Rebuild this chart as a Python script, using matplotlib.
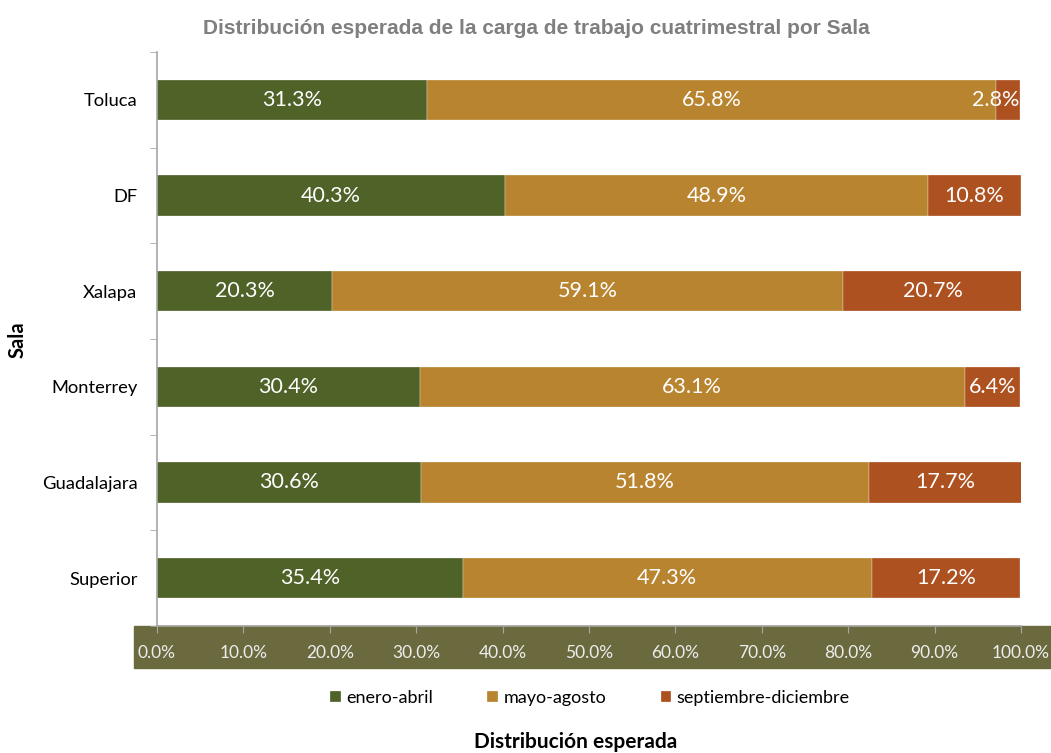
import matplotlib.pyplot as plt
import matplotlib.patches as mpatches
import numpy as np

# Workload share per courtroom and four-month period (%)
salas = ['Superior', 'Guadalajara', 'Monterrey', 'Xalapa', 'DF', 'Toluca']
enero_abril = [35.4, 30.6, 30.4, 20.3, 40.3, 31.3]
mayo_agosto = [47.3, 51.8, 63.1, 59.1, 48.9, 65.8]
sept_dic = [17.2, 17.7, 6.4, 20.7, 10.8, 2.8]
periodos = ['enero-abril', 'mayo-agosto', 'septiembre-diciembre']
colores = ['#4F6228', '#B9842F', '#AE5120']
x_ticks = np.arange(0, 101, 10)

plt.rcParams['font.family'] = ['Lato', 'DejaVu Sans']

fig = plt.figure(figsize=(10.51, 7.53), dpi=100)
W, H = 1051, 753
ax = fig.add_axes([157 / W, 1 - 626 / H, (1021 - 157) / W, (626 - 52) / H])
ax.set_facecolor('none')

# olive band behind the x tick labels
fig.patches.append(mpatches.Rectangle((134 / W, 1 - 668 / H), 1 - 134 / W, 42 / H,
                                      transform=fig.transFigure, color='#6B6A3F', zorder=-1))

y = np.arange(len(salas))
series = [enero_abril, mayo_agosto, sept_dic]
left = np.zeros(len(salas))
for vals, col, name in zip(series, colores, periodos):
    vals = np.array(vals)
    ax.barh(y, vals, left=left, height=0.42, color=col, label=name,
            edgecolor='#FFFFFF', linewidth=0.2)
    for yi, l, v in zip(y, left, vals):
        cx = l + v / 2
        txt = f'{v:.1f}%'
        if cx + 3 > 100:
            ax.text(99.8, yi, txt, ha='right', va='center', color='white', fontsize=15.5)
        else:
            ax.text(cx, yi, txt, ha='center', va='center', color='white', fontsize=15.5)
    left = left + vals

ax.set_xlim(0, 100)
ax.set_ylim(-0.5, len(salas) - 0.5)
ax.set_yticks(y)
ax.set_yticklabels(salas, fontsize=13.2)
ax.set_yticks(np.arange(-0.5, len(salas), 1), minor=True)
ax.tick_params(axis='y', which='major', length=0, pad=14)
ax.tick_params(axis='y', which='minor', length=5, color='#A6A6A6')
ax.set_xticks(x_ticks)
ax.set_xticklabels([f'{t:.1f}%' for t in x_ticks], fontsize=12.5, color='#EDEDED')
ax.tick_params(axis='x', length=5, color='#A6A6A6', pad=9, direction='out')

for s in ['top', 'right']:
    ax.spines[s].set_visible(False)
for s in ['left', 'bottom']:
    ax.spines[s].set_color('#A6A6A6')
    ax.spines[s].set_linewidth(1.2)

fig.text(536 / W, 1 - 28 / H, 'Distribución esperada de la carga de trabajo cuatrimestral por Sala',
         ha='center', va='center', fontsize=15, fontweight='bold', color='#7F7F7F',
         family=['Liberation Sans', 'DejaVu Sans'])
fig.text(18 / W, 1 - 340 / H, 'Sala', rotation=90, ha='center', va='center',
         fontsize=14.5, fontweight='bold')
fig.text(576 / W, 1 - 742 / H, 'Distribución esperada', ha='center', va='center',
         fontsize=15, fontweight='bold')

fig.legend(loc='center', bbox_to_anchor=(590 / W, 1 - 698 / H), ncol=3, frameon=False,
           fontsize=13, handlelength=0.6, handleheight=0.6, handletextpad=0.3,
           columnspacing=3.0)

fig.savefig('out.png', dpi=100)
